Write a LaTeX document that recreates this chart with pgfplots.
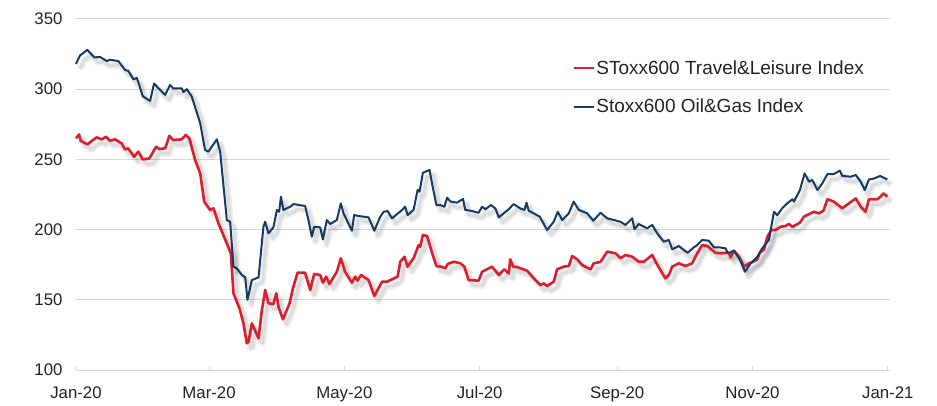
\documentclass[border=0pt]{standalone}
\usepackage{pgfplots}
\pgfplotsset{compat=1.18}
\usepackage{fontspec}
\setmainfont{Liberation Sans}
\definecolor{travred}{RGB}{218,30,45}
\definecolor{oilblue}{RGB}{22,58,98}
\definecolor{gridgray}{RGB}{215,215,215}
\definecolor{txt}{RGB}{35,35,35}
\begin{document}
\begin{tikzpicture}
\begin{axis}[
  scale only axis, width=814pt, height=351pt,
  xmin=0, xmax=367, ymin=100, ymax=350,
  xtick={0,60,121,182,244,305,366},
  xticklabels={Jan-20,Mar-20,May-20,Jul-20,Sep-20,Nov-20,Jan-21},
  ytick={100,150,200,250,300,350},
  axis x line*=bottom, axis y line*=left,
  x axis line style={draw=gridgray, line width=1pt},
  y axis line style={draw=none},
  ytick style={draw=none},
  xtick style={draw=gridgray, line width=1pt},
  tick align=inside, major tick length=4pt,
  ymajorgrids, major grid style={draw=gridgray, line width=1pt},
  /pgf/number format/assume math mode=true,
  ticklabel style={font=\fontsize{16.8}{18}\selectfont, text=txt},
  yticklabel style={xshift=-10pt},
  xticklabel style={yshift=-13pt},
  clip=false,
  legend style={at={(0.611,0.894)}, anchor=north west, draw=none, fill=none,
    font=\fontsize{19}{21}\selectfont, text=txt, row sep=19.5pt, inner xsep=0pt,
    nodes={inner xsep=1pt}},
  legend cell align=left,
  legend image code/.code={\draw[#1, line width=1.8pt] (0pt,0pt) -- (20pt,0pt);},
]
\pgfplotstableread{
d v
0 265
1.4 267.8
2.1 263.3
5.1 260.7
9.3 265.7
11.6 264.3
13.5 266.2
15.3 263.3
17.6 264.3
20.6 261.4
22.1 257.1
23.6 257.8
26.2 251.9
28.1 255.5
30.1 250
33.1 250.7
36.1 259
37.6 257.4
40.2 257.9
42.1 266.7
43.9 263.8
47.7 264.3
49.5 267.4
51.1 265
53.7 249.6
56 240
57.8 219.9
60.5 214
62 215.2
64.2 204.5
68 190.2
69.8 183.1
71 154.6
73.7 143.9
75.5 133.2
77 119
77.8 120.2
79.3 133.2
82.3 122.6
83.8 142.7
85.3 157
86.8 147.5
89 147
90.3 154.6
91.3 145
93.3 136.1
96.3 147.5
97.8 158.2
99.9 169.3
103.3 169.3
105.6 157
107.4 168.4
110.1 167.7
111.3 162.2
112.8 166.5
114.3 161.3
117.6 170
119.4 179.6
121.3 170
124.4 162.2
125.9 166.5
126.9 163.6
128.5 167.7
131.9 164.1
134.5 152.7
138 162.9
140.2 162.9
142.5 164.6
145 166.5
146.2 177.1
148.1 180.7
149.5 173.6
152.2 179.6
154.5 189
155.2 187.8
156.4 196.2
158.3 195.4
160.5 183.5
162.5 174.1
164.6 173.6
166.5 172.4
167.6 175.5
170.3 177.1
173.3 176
175.1 173.6
177 164.1
181.5 163.6
183.1 170
187.6 173.6
190.6 167.7
193.1 171.7
195.1 168.8
195.8 178.8
197.1 173.6
199.2 173.2
203.4 170.7
207.1 164.1
209.4 160.5
210.9 161.7
212.4 159.8
215.4 162.9
216.9 171.7
219.9 173.6
222.2 174.1
223.7 181.2
226 178.8
228.2 174.8
232 171.7
233.4 176
236.5 177
239.5 184.3
243.2 183.1
245.5 179.6
247.7 181.9
250.8 180.7
253.7 177.1
256 177.1
259.8 181.9
261.3 177.1
263.5 171.2
265.7 165.3
267.3 167.7
268.8 173.6
271.8 176
274.8 174.1
277.8 176
280.1 183.1
282.3 189
284.6 188.3
288.3 183.5
290.6 183.1
294.4 183.5
295.1 180.2
296.6 185
298.9 180.7
301.1 173.6
303.4 176
305.4 177.1
307.2 178.8
308.3 183.5
310.2 185.9
311.7 194.9
313.5 199.7
315.4 199.7
317.7 202
319.9 202.6
321.4 204
323 202
326.4 204.9
328.2 209.2
332.7 212.7
335 211.6
337 213.5
338.8 221.6
341.7 219.9
343.6 217.5
345.5 215.2
348.5 218.7
351.6 222.2
353.8 216.3
356 212.7
357.5 221.6
361.3 221.6
362.8 223.5
364 225.8
365.8 223.5
}\travel
\pgfplotstableread{
d v
0 318
1.8 324
5.1 328
8.3 322.6
10.8 323
13.9 320
15.3 321
19.1 320
22.1 313.7
23.6 313
25.9 307
27.4 308
28.1 305
30.1 295
33.4 291.6
35.2 304
37.6 300
40.2 296
42.4 303
43.9 300.5
47.7 300.5
48.4 298
50 300
52.2 294.7
56 275.7
58.2 256.7
59.7 255.5
63.5 264.3
65 255.5
68 206.8
69.5 205.6
71 173.6
72.5 172.4
74.8 167.7
76.3 166
77.3 150
79.3 164
82.3 166
84.5 202
85.3 205.6
86.8 197.3
89 201.6
90.6 214
91.6 212.7
92.4 223.4
93.5 214
96.6 216.3
98.1 218.2
103.3 216.8
104.8 206.8
106.3 195
107.4 202
110.1 201.6
111.3 193
113.1 206.8
114.6 204
117.6 206.8
119.4 218.7
120.6 211.6
124.4 199.2
125.4 210.4
127.4 209.7
131.9 208.7
134.5 199.2
137.2 209.2
138.7 212.7
140.5 213.2
142.5 208
147 214
148.4 216.3
149.5 210.4
152.2 214
154 228.2
154.9 227
156.4 240.5
159.4 242.5
160.5 233
162.5 217.5
164.3 217.5
166.1 216.3
167.3 222.7
168.8 220
171.8 219.2
174.5 221.8
175.5 214
177.8 213.5
181.5 212
183.1 216.3
184.6 214.5
187.1 217.5
189.1 215
190.6 208.7
195.1 214.5
197.3 218.2
200.4 215
202.2 214
203.1 219.2
204.1 213.5
209.1 209.2
212.4 199.7
215.4 205.6
217.2 212.7
219.2 206.8
222.2 211.6
224.4 219.9
226.7 214
230.5 211.6
233.2 206.3
236.5 212
239.5 208
245.5 205.6
247.7 203.3
250.8 208
251.8 200.2
253.7 204
257.5 200.9
259.8 203.3
262 197.4
265 191.4
267.3 192.6
268.8 186
271.8 188.3
274 185.5
275.8 183.5
278.6 187.4
280.1 189
282.3 192.6
285.3 192.1
287.6 187.4
289.8 187.4
292.8 186.7
293.9 183.1
296.6 185
299.3 178.8
301.6 170
304.2 176
307.2 180.7
309.4 186.7
312.4 192.6
314.7 212.7
316.2 210.4
318.4 215.2
320.7 218.7
323 221.6
323.7 219.9
326.4 228.2
328.5 240
330.5 234.1
332 235.3
334.3 228.2
336.5 233
338.8 239.6
341.7 239.6
344.4 242
345.5 238.2
349.3 237.7
351.6 238.9
353.8 234.1
355.6 228.2
357.5 235.7
359.8 236.4
362.5 238.2
365.8 235.7
}\oil
% shadows
\addplot[forget plot, draw=black, opacity=0.06, line width=7pt, line join=round, xshift=4pt, yshift=-5pt] table[x=d,y=v] {\oil};
\addplot[forget plot, draw=black, opacity=0.08, line width=3.5pt, line join=round, xshift=4pt, yshift=-5pt] table[x=d,y=v] {\oil};
\addplot[forget plot, draw=black, opacity=0.06, line width=7pt, line join=round, xshift=4pt, yshift=-5pt] table[x=d,y=v] {\travel};
\addplot[forget plot, draw=black, opacity=0.08, line width=3.5pt, line join=round, xshift=4pt, yshift=-5pt] table[x=d,y=v] {\travel};
% series
\addplot[draw=travred, line width=2.6pt, line join=round] table[x=d,y=v] {\travel};
\addlegendentry{SToxx600 Travel\&Leisure Index}
\addplot[draw=oilblue, line width=2pt, line join=round] table[x=d,y=v] {\oil};
\addlegendentry{Stoxx600 Oil\&Gas Index}
\end{axis}
\path (current axis.south west) ++(-76pt,-33pt) coordinate (bl);
\path (current axis.north east) ++(47pt,19pt) coordinate (tr);
\path[use as bounding box] (bl) rectangle (tr);
\end{tikzpicture}
\end{document}
